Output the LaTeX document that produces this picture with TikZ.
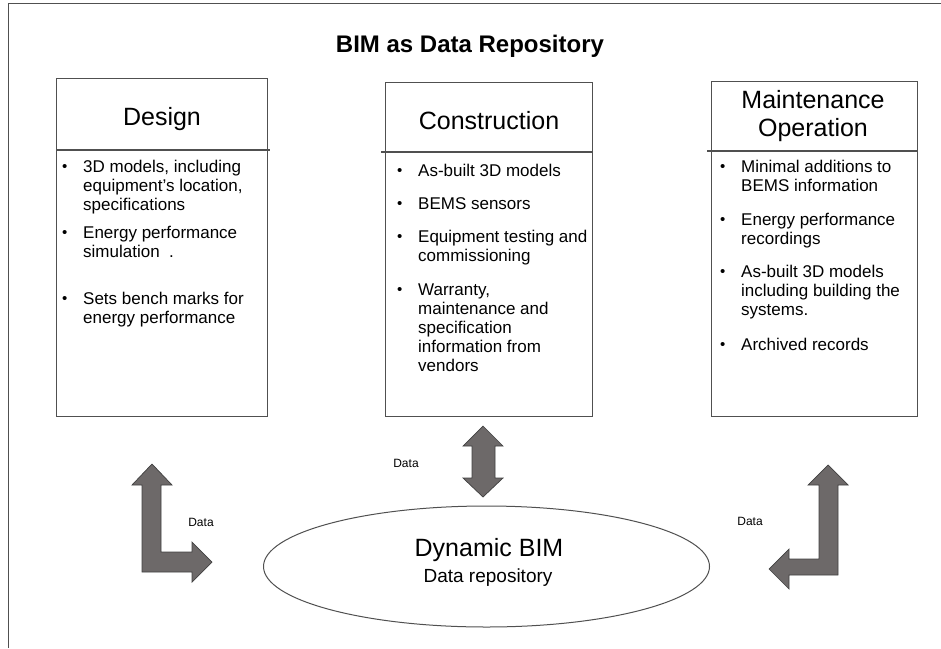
\documentclass[tikz,border=0pt]{standalone}
\usepackage{fontspec}
\setmainfont{Liberation Sans}
\usetikzlibrary{shapes.geometric}
\definecolor{arrowfill}{HTML}{6D6969}
\definecolor{edge}{HTML}{505050}
\begin{document}
\begin{tikzpicture}[x=1pt,y=-1pt,
  edgeline/.style={draw=edge, line width=1.2pt},
  phasebox/.style={edgeline, anchor=north west, inner sep=0pt},
  fatarrow/.style={fill=arrowfill, draw=black!75, line width=0.7pt, line join=miter},
  heading/.style={font=\fontsize{25}{28}\selectfont, inner sep=0pt, align=center},
  % item text: placed by the first line's baseline (minus the strut height)
  itemtext/.style={anchor=north west, align=left, inner sep=0pt, font=\fontsize{17}{19}\selectfont, yshift=13.3pt},
  bulletdot/.style={anchor=base west, inner sep=0pt, font=\fontsize{15}{19}\selectfont},
  datalabel/.style={font=\fontsize{12}{14}\selectfont, inner sep=0pt}]
\useasboundingbox (0,0) rectangle (941,648);

% outer frame (open to the right and bottom)
\draw[edgeline] (8.5,648) -- (8.5,3.7) -- (941,3.7);

% title
\node[font=\bfseries\fontsize{24}{28}\selectfont, inner sep=0pt] (title) at (470,46) {BIM as Data Repository};

% ---------------- Design ----------------
\node[phasebox, minimum width=211pt, minimum height=338pt] (design) at (56,78) {};
\draw[edgeline] (56,150) -- (270,150);
\node[heading] (designhead) at (162,119) {Design};
\node[bulletdot] (d1b) at (62,171) {•};
\node[itemtext] (d1) at (83,172) {\strut 3D models, including\\equipment's location,\\specifications};
\node[bulletdot] (d2b) at (62,237) {•};
\node[itemtext] (d2) at (83,238) {\strut Energy performance\\simulation\ \ .};
\node[bulletdot] (d3b) at (62,303) {•};
\node[itemtext] (d3) at (83,304) {\strut Sets bench marks for\\energy performance};

% ---------------- Construction ----------------
\node[phasebox, minimum width=207pt, minimum height=334pt] (constr) at (385,82) {};
\draw[edgeline] (381,152) -- (592,152);
\node[heading] (constrhead) at (489,121) {Construction};
\node[bulletdot] (c1b) at (397,175) {•};
\node[itemtext] (c1) at (418,176) {\strut As-built 3D models};
\node[bulletdot] (c2b) at (397,208) {•};
\node[itemtext] (c2) at (418,209) {\strut BEMS sensors};
\node[bulletdot] (c3b) at (397,241) {•};
\node[itemtext] (c3) at (418,242) {\strut Equipment testing and\\commissioning};
\node[bulletdot] (c4b) at (397,294) {•};
\node[itemtext] (c4) at (418,295) {\strut Warranty,\\maintenance and\\specification\\information from\\vendors};

% ---------------- Maintenance / Operation ----------------
\node[phasebox, minimum width=206pt, minimum height=335pt] (maint) at (711,81) {};
\draw[edgeline] (707,151) -- (917,151);
\node[heading] (mainthead) at (813,116) {Maintenance\\Operation};
\node[bulletdot] (m1b) at (720,171) {•};
\node[itemtext] (m1) at (741,172) {\strut Minimal additions to\\BEMS information};
\node[bulletdot] (m2b) at (720,224) {•};
\node[itemtext] (m2) at (741,225) {\strut Energy performance\\recordings};
\node[bulletdot] (m3b) at (720,276) {•};
\node[itemtext] (m3) at (741,277) {\strut As-built 3D models\\including building the\\systems.};
\node[bulletdot] (m4b) at (720,349) {•};
\node[itemtext] (m4) at (741,350) {\strut Archived records};

% ---------------- central repository ----------------
\node[draw=edge, line width=1pt, ellipse, minimum width=446pt, minimum height=121pt, inner sep=0pt] (repo) at (486.5,566.5) {};
\node[font=\fontsize{25}{28}\selectfont, inner sep=0pt, anchor=base] (repotitle) at (489,556.5) {Dynamic BIM};
\node[font=\fontsize{19}{22}\selectfont, inner sep=0pt, anchor=base] (reposub) at (488,582) {Data repository};

% ---------------- block arrows ----------------
% design <-> repository
\draw[fatarrow] (152,464) -- (172,485) -- (161,485) -- (161,552) -- (192,552) -- (192,542)
  -- (212,562) -- (192,582) -- (192,572) -- (142,572) -- (142,485) -- (132,485) -- cycle;
\node[datalabel] (ldata) at (201,522) {Data};

% construction <-> repository
\draw[fatarrow] (483,426) -- (503,446) -- (495,446) -- (495,478) -- (503,478) -- (483,497)
  -- (463,478) -- (472,478) -- (472,446) -- (463,446) -- cycle;
\node[datalabel] (mdata) at (406,463) {Data};

% maintenance <-> repository
\draw[fatarrow] (828,465) -- (848,485) -- (838,485) -- (838,575) -- (789,575) -- (789,589)
  -- (769,569) -- (789,549) -- (789,559) -- (819,559) -- (819,485) -- (808,485) -- cycle;
\node[datalabel] (rdata) at (750,521) {Data};
\end{tikzpicture}
\end{document}
